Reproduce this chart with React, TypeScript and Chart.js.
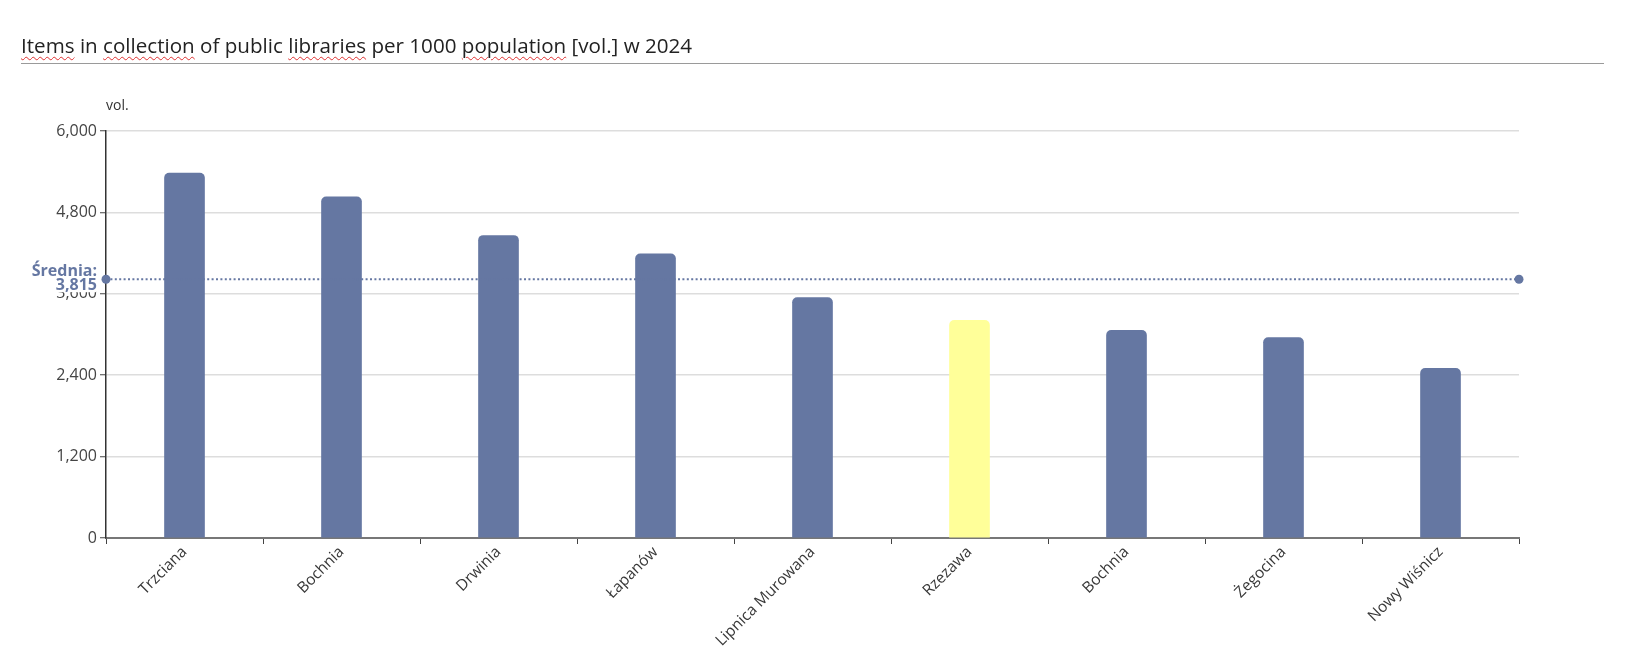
import React, { useEffect, useRef } from "react";
import { Chart, registerables } from "chart.js";

Chart.register(...registerables);

const categories = [
  "Trzciana",
  "Bochnia",
  "Drwinia",
  "Łapanów",
  "Lipnica Murowana",
  "Rzezawa",
  "Bochnia",
  "Żegocina",
  "Nowy Wiśnicz",
];
const values = [5380, 5030, 4460, 4190, 3545, 3210, 3060, 2955, 2500];
const highlighted = [false, false, false, false, false, true, false, false, false];
const averageValue = 3815;
const averageLabel = ["Średnia:", "3,815"];
const yMin = 0;
const yMax = 6000;
const yStep = 1200;
const unitLabel = "vol.";

const BAR = "#6577a2";
const HILITE = "#ffff99";
const FONT = "'Open Sans', 'Noto Sans', sans-serif";

const avgPlugin = {
  id: "avgLine",
  afterDatasetsDraw(chart: any) {
    const { ctx, chartArea } = chart;
    const y = chart.scales.y.getPixelForValue(averageValue);
    ctx.save();
    ctx.strokeStyle = BAR;
    ctx.lineWidth = 2;
    ctx.setLineDash([2, 2.4]);
    ctx.beginPath();
    ctx.moveTo(chartArea.left, y);
    ctx.lineTo(chartArea.right, y);
    ctx.stroke();
    ctx.setLineDash([]);
    ctx.fillStyle = BAR;
    for (const x of [chartArea.left, chartArea.right]) {
      ctx.beginPath();
      ctx.arc(x, y, 4.5, 0, Math.PI * 2);
      ctx.fill();
    }
    // label with white background
    ctx.fillStyle = "#ffffff";
    ctx.fillRect(chartArea.left - 80, y - 18, 70, 31);
    ctx.fillStyle = BAR;
    ctx.font = `bold 16px ${FONT}`;
    ctx.textAlign = "right";
    ctx.textBaseline = "middle";
    ctx.fillText(averageLabel[0], chartArea.left - 9, y - 8);
    ctx.fillText(averageLabel[1], chartArea.left - 9, y + 6.5);
    // unit label
    ctx.fillStyle = "#333333";
    ctx.font = `14px ${FONT}`;
    ctx.textAlign = "left";
    ctx.fillText(unitLabel, chartArea.left + 0, chartArea.top - 25);
    ctx.restore();
  },
};

export default function App() {
  const ref = useRef<HTMLCanvasElement | null>(null);

  useEffect(() => {
    if (!ref.current) return;
    const chart = new Chart(ref.current, {
      type: "bar",
      data: {
        labels: categories,
        datasets: [
          {
            data: values,
            backgroundColor: highlighted.map((h) => (h ? HILITE : BAR)),
            barThickness: 40,
            borderRadius: { topLeft: 5, topRight: 5, bottomLeft: 0, bottomRight: 0 },
            borderSkipped: "bottom",
          },
        ],
      },
      options: {
        animation: false,
        responsive: false,
        devicePixelRatio: 1,
        layout: { padding: { top: 131, right: 116, left: 0, bottom: 0 } },
        plugins: {
          legend: { display: false },
          tooltip: { enabled: false },
          title: { display: false },
        },
        scales: {
          x: {
            offset: true,
            grid: {
              display: true,
              offset: true,
              drawOnChartArea: false,
              drawTicks: true,
              tickLength: 6,
              tickColor: "#444444",
              tickWidth: 1,
            },
            border: { display: true, color: "#777777", width: 2 },
            ticks: {
              minRotation: 45,
              maxRotation: 45,
              autoSkip: false,
              padding: -1,
              color: "#383838",
              font: { family: FONT, size: 15.5 },
            },
            afterFit(scale: any) {
              scale.height = 120;
            },
          },
          y: {
            min: yMin,
            max: yMax,
            ticks: {
              stepSize: yStep,
              padding: 3,
              color: "#444444",
              font: { family: FONT, size: 16 },
              callback: (v: any) => Number(v).toLocaleString("en-US"),
            },
            grid: {
              color: "#dddddd",
              lineWidth: 1.5,
              drawTicks: true,
              tickLength: 6,
              tickColor: "#444444",
              tickWidth: 1,
            },
            border: { display: true, color: "#333333", width: 1.5 },
            afterFit(scale: any) {
              scale.width = 106;
            },
          },
        },
      },
      plugins: [avgPlugin],
    });
    return () => chart.destroy();
  }, []);

  const squiggle: React.CSSProperties = {
    textDecorationLine: "underline",
    textDecorationStyle: "wavy",
    textDecorationColor: "#e03030",
    textDecorationThickness: "1px",
    textUnderlineOffset: "3px",
  };

  return (
    <div
      style={{
        position: "absolute",
        left: 0,
        top: 0,
        width: 1635,
        height: 658,
        background: "#ffffff",
        overflow: "hidden",
      }}
    >
      <canvas
        ref={ref}
        width={1635}
        height={658}
        style={{ position: "absolute", left: 0, top: 0, width: 1635, height: 658 }}
      />
      <div
        style={{
          position: "absolute",
          left: 21,
          top: 31,
          fontFamily: FONT,
          fontSize: 20.6,
          color: "#222222",
          lineHeight: "28px",
          whiteSpace: "nowrap",
        }}
      >
        <span style={squiggle}>Items</span> in <span style={squiggle}>collection</span> of public{" "}
        <span style={squiggle}>libraries</span> per 1000 <span style={squiggle}>population</span> [vol.] w 2024
      </div>
      <div
        style={{
          position: "absolute",
          left: 21,
          top: 63,
          width: 1583,
          height: 1,
          background: "#9a9a9a",
        }}
      />
    </div>
  );
}
